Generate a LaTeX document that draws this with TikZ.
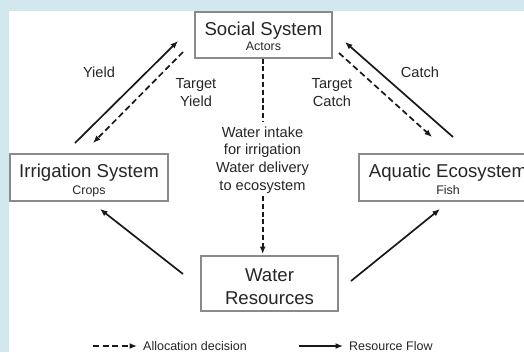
\documentclass[tikz,border=0pt]{standalone}
\usepackage{fontspec}
\setmainfont{Liberation Sans}
\usetikzlibrary{arrows.meta}
\definecolor{bgblue}{HTML}{D3E8EE}
\definecolor{txtgray}{HTML}{262626}
\definecolor{boxgray}{HTML}{8A8A8A}
\begin{document}
\begin{tikzpicture}[x=1bp,y=-1bp,
  box/.style={draw=boxgray,line width=1.4bp,fill=white,inner sep=0pt},
  bigtxt/.style={text=txtgray,font=\fontsize{18.6bp}{23bp}\selectfont,inner sep=0pt,anchor=base},
  subtxt/.style={text=txtgray,font=\fontsize{12.4bp}{14bp}\selectfont,inner sep=0pt,anchor=base},
  midtxt/.style={text=txtgray,font=\fontsize{14.6bp}{17.6bp}\selectfont,inner sep=0pt,anchor=base},
  legtxt/.style={text=txtgray,font=\fontsize{12.5bp}{14bp}\selectfont,inner sep=0pt,anchor=base west},
  flow/.style={line width=1.7bp,draw=black!90,-{Latex[length=7.5bp,width=6bp]}},
  alloc/.style={line width=1.7bp,draw=black!90,dash pattern=on 6bp off 3.5bp,-{Latex[length=7.5bp,width=6bp]}},
  vdash/.style={line width=1.8bp,draw=black!90,dash pattern=on 5bp off 2.8bp}
]
\useasboundingbox (0,0) rectangle (524,352);
\clip (0,0) rectangle (524,352);
\fill[bgblue] (0,0) rectangle (524,352);
\fill[white] (9,11) rectangle (524,352);

% boxes
\node[box,minimum width=137bp,minimum height=46bp] (social) at (263.5,35) {};
\node[box,minimum width=158bp,minimum height=47bp] (irr) at (89,177.5) {};
\node[box,minimum width=178bp,minimum height=47bp] (aqu) at (448,177.5) {};
\node[box,minimum width=137bp,minimum height=55bp] (water) at (269.5,283.5) {};

% box texts
\node[bigtxt] (socialt) at (263.5,35.5) {Social System};
\node[subtxt] (socials) at (263.5,50) {Actors};
\node[bigtxt] (irrt) at (89,177) {Irrigation System};
\node[subtxt] (irrs) at (89,194.5) {Crops};
\node[bigtxt] (aqut) at (448,177) {Aquatic Ecosystem};
\node[subtxt] (aqus) at (448,194.5) {Fish};
\node[bigtxt] (watert) at (269.5,281) {Water};
\node[bigtxt] (waterr) at (269.5,304) {Resources};

% middle text
\node[midtxt] (m1) at (262.5,137) {Water intake};
\node[midtxt] (m2) at (262.5,154.5) {for irrigation};
\node[midtxt] (m3) at (262.5,172) {Water delivery};
\node[midtxt] (m4) at (262.5,190) {to ecosystem};

% labels
\node[midtxt] (lyield) at (99,77.5) {Yield};
\node[midtxt] (ltyield1) at (196,88) {Target};
\node[midtxt] (ltyield2) at (196,106) {Yield};
\node[midtxt] (lcatch) at (420,77.5) {Catch};
\node[midtxt] (ltcatch1) at (332,88) {Target};
\node[midtxt] (ltcatch2) at (332,106) {Catch};

% connector end points
\coordinate (y1) at (75,143);
\coordinate (y2) at (178,41);
\coordinate (ty1) at (183,52);
\coordinate (ty2) at (93,143);
\coordinate (c1) at (453,137);
\coordinate (c2) at (345,42);
\coordinate (tc1) at (339,53);
\coordinate (tc2) at (432,137);
\coordinate (v1) at (262.7,58.5);
\coordinate (v2) at (262.7,121);
\coordinate (v3) at (262.7,196);
\coordinate (v4) at (262.7,254);
\coordinate (wi1) at (183,274);
\coordinate (wi2) at (100,209);
\coordinate (wa1) at (351,281);
\coordinate (wa2) at (440,209);

\draw[flow] (y1) -- (y2);
\draw[alloc] (ty1) -- (ty2);
\draw[flow] (c1) -- (c2);
\draw[alloc] (tc1) -- (tc2);
\draw[vdash] (v1) -- (v2);
\draw[vdash,-{Latex[length=7.5bp,width=6bp]}] (v3) -- (v4);
\draw[flow] (wi1) -- (wi2);
\draw[flow] (wa1) -- (wa2);

% legend
\coordinate (la1) at (93,346);
\coordinate (la2) at (137,346);
\coordinate (lf1) at (299,346);
\coordinate (lf2) at (343,346);
\draw[alloc] (la1) -- (la2);
\draw[flow] (lf1) -- (lf2);
\node[legtxt] (lalloc) at (143,350) {Allocation decision};
\node[legtxt] (lflow) at (349,350) {Resource Flow};
\end{tikzpicture}
\end{document}
